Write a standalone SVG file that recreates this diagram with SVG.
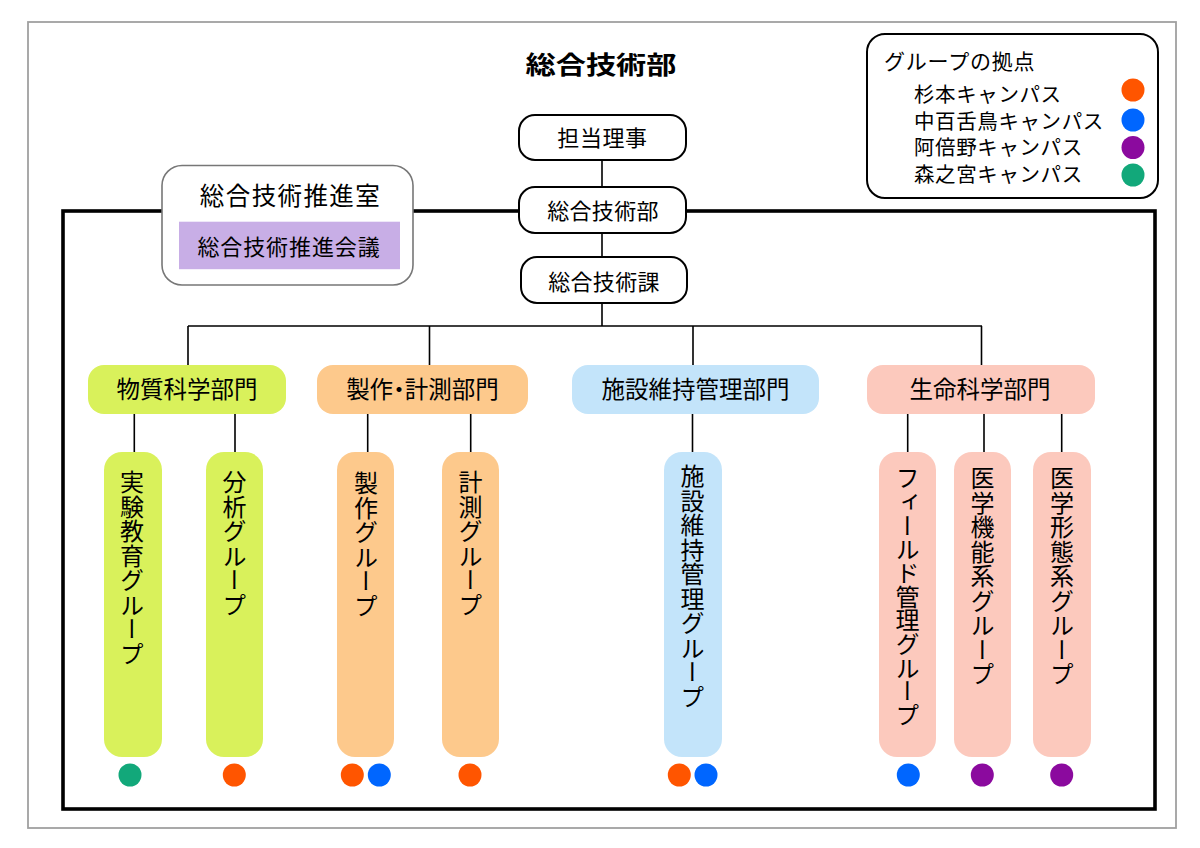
<svg xmlns="http://www.w3.org/2000/svg" width="1200" height="848" viewBox="0 0 1200 848">
<style>
text{font-family:'Noto Sans CJK JP','Noto Sans',sans-serif;fill:#000}
.c{text-anchor:middle}
.box{fill:#fff;stroke:#000;stroke-width:2}
.ln{stroke:#000;stroke-width:1.6;fill:none}
.vt{writing-mode:vertical-rl;font-size:24px;letter-spacing:0.5px}
.dp{font-size:23.5px}
.g1{fill:#d9f15b}.g2{fill:#fdc98c}.g3{fill:#c3e4fa}.g4{fill:#fcc9bd}
.o{fill:#ff5500}.b{fill:#0066ff}.p{fill:#8b0a9e}.gr{fill:#12a87a}
.lg{font-size:20.5px;letter-spacing:0.6px}
</style>
<rect x="0" y="0" width="1200" height="848" fill="#fff"/>
<rect x="28" y="22" width="1148" height="806" fill="none" stroke="#a0a0a0" stroke-width="1.8"/>
<g id="frame">
<rect x="63" y="211" width="1092" height="598" fill="none" stroke="#000" stroke-width="3.6"/>
</g>
<text id="title" x="525.5" y="73.5" font-size="25" font-weight="bold" textLength="151" lengthAdjust="spacingAndGlyphs">総合技術部</text>
<g id="connectors">
<path class="ln" d="M602 160V187M602 233V257M602 303V326M188 326H982M188 326V365M429.5 326V365M693 326V365M981.5 326V365"/>
<path class="ln" d="M134.3 414V452M235 414V452M367.7 414V452M470.7 414V452M692.5 414V452M907.7 414V452M984 414V452M1061.7 414V452"/>
</g>
<g id="tanto"><rect class="box" x="519" y="115" width="167" height="45" rx="16"/><text class="c" x="602.5" y="146.3" font-size="22" letter-spacing="0.6">担当理事</text></g>
<g id="sogo-gijutsubu"><rect class="box" x="519" y="187" width="167" height="46" rx="16"/><text class="c" x="603" y="219.3" font-size="22" letter-spacing="0.3">総合技術部</text></g>
<g id="sogo-gijutsuka"><rect class="box" x="521" y="257" width="166" height="46" rx="16"/><text class="c" x="604" y="289.5" font-size="22" letter-spacing="0.3">総合技術課</text></g>
<g id="suishinshitsu">
<rect x="162" y="165.5" width="251" height="119.5" rx="20" fill="#fff" stroke="#777" stroke-width="1.6"/>
<text class="c" x="290.5" y="205" font-size="24.5" letter-spacing="1.4">総合技術推進室</text>
<rect x="179" y="221.7" width="221" height="47.5" fill="#c8aee6"/>
<text class="c" x="289" y="255" font-size="22" letter-spacing="0.9">総合技術推進会議</text>
</g>
<g id="legend">
<rect x="867" y="34" width="291" height="164" rx="18" fill="#fff" stroke="#000" stroke-width="2"/>
<text x="884" y="68.5" font-size="21" letter-spacing="0.8">グループの拠点</text>
<text class="lg" x="914" y="102">杉本キャンパス</text>
<text class="lg" x="914" y="128.5">中百舌鳥キャンパス</text>
<text class="lg" x="914" y="155">阿倍野キャンパス</text>
<text class="lg" x="914" y="182">森之宮キャンパス</text>
<circle class="o" cx="1133" cy="90" r="11.5"/>
<circle class="b" cx="1133" cy="120" r="11.5"/>
<circle class="p" cx="1133" cy="147.5" r="11.5"/>
<circle class="gr" cx="1133" cy="175" r="11.5"/>
</g>
<g id="busshitsu"><rect class="g1" x="88" y="365" width="198" height="49" rx="16"/><text class="c dp" x="187" y="398">物質科学部門</text></g>
<g id="seisaku-keisoku"><rect class="g2" x="317" y="365" width="211" height="49" rx="16"/><text class="c dp" x="422.5" y="398" style="font-feature-settings:'palt'">製作・計測部門</text></g>
<g id="shisetsu"><rect class="g3" x="572" y="365" width="247" height="49" rx="16"/><text class="c dp" x="695.5" y="398">施設維持管理部門</text></g>
<g id="seimei"><rect class="g4" x="867" y="365" width="228" height="49" rx="16"/><text class="c dp" x="980" y="398">生命科学部門</text></g>
<g id="jikken"><rect class="g1" x="104" y="452" width="58" height="305" rx="18"/><text class="vt" x="132" y="470">実験教育グループ</text><circle class="gr" cx="130" cy="775" r="11.5"/></g>
<g id="bunseki"><rect class="g1" x="206" y="452" width="57" height="305" rx="18"/><text class="vt" x="234.5" y="470">分析グループ</text><circle class="o" cx="234.3" cy="775" r="11.5"/></g>
<g id="seisaku"><rect class="g2" x="337" y="452" width="57" height="305" rx="18"/><text class="vt" x="366" y="471">製作グループ</text><circle class="o" cx="352.3" cy="775" r="11.5"/><circle class="b" cx="379.3" cy="775" r="11.5"/></g>
<g id="keisoku"><rect class="g2" x="442" y="452" width="57" height="305" rx="18"/><text class="vt" x="470.5" y="470">計測グループ</text><circle class="o" cx="470" cy="775" r="11.5"/></g>
<g id="shisetsu-g"><rect class="g3" x="664" y="452" width="58" height="305" rx="18"/><text class="vt" x="692.5" y="464">施設維持管理グループ</text><circle class="o" cx="679.3" cy="775" r="11.5"/><circle class="b" cx="706" cy="775" r="11.5"/></g>
<g id="field"><rect class="g4" x="879" y="452" width="57" height="305" rx="18"/><text class="vt" x="907.5" y="466" style="letter-spacing:-0.3px">フィールド管理グループ</text><circle class="b" cx="908.3" cy="775" r="11.5"/></g>
<g id="igaku-kino"><rect class="g4" x="954" y="452" width="57" height="305" rx="18"/><text class="vt" x="982.5" y="466">医学機能系グループ</text><circle class="p" cx="982.3" cy="775" r="11.5"/></g>
<g id="igaku-keitai"><rect class="g4" x="1033" y="452" width="58" height="305" rx="18"/><text class="vt" x="1062" y="466">医学形態系グループ</text><circle class="p" cx="1061.7" cy="775" r="11.5"/></g>
</svg>
